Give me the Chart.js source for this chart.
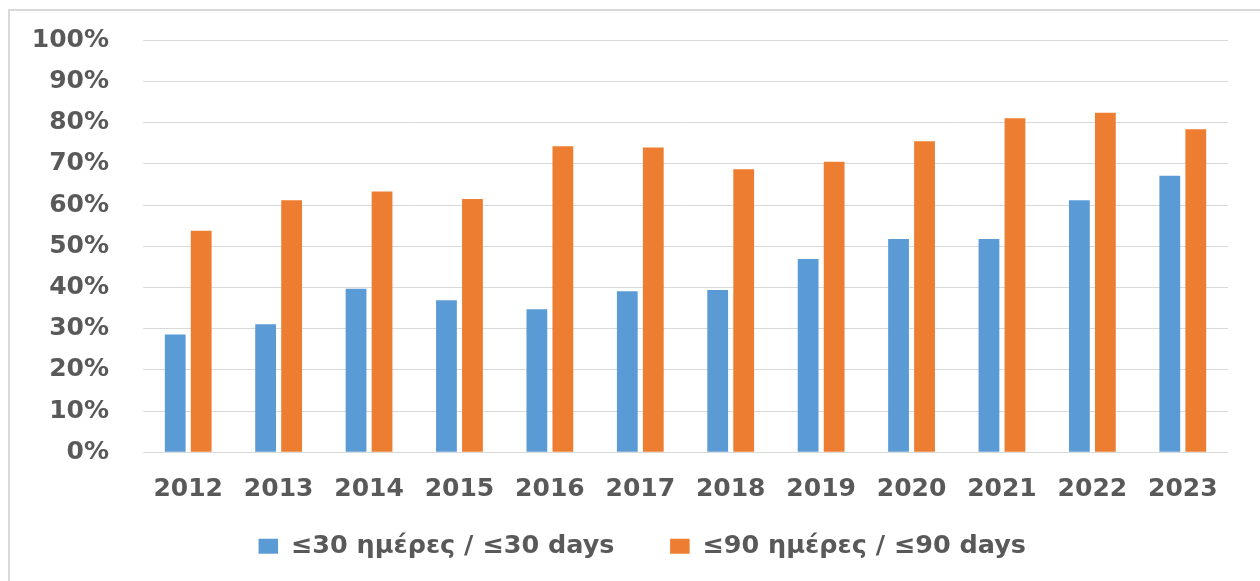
<!DOCTYPE html>
<html lang="el">
<head>
    <meta charset="UTF-8">
    <title>≤30 / ≤90 ημέρες</title>
    <script src="https://cdn.jsdelivr.net/npm/chart.js"></script>
    <style>
        html, body { margin: 0; padding: 0; background: #fff; overflow: hidden; }
        .frame {
            position: absolute; left: 8px; top: 9px;
            width: 1400px; height: 800px;
            border: 2px solid #d9d9d9;
        }
        .chart-box { position: absolute; left: 0; top: 0; width: 1260px; height: 581px; }
    </style>
</head>
<body>
    <div class="frame"></div>
    <div class="chart-box">
        <canvas id="chart" width="1260" height="581"></canvas>
    </div>

    <script>
        // Data (share of cases, %)
        const years = ['2012', '2013', '2014', '2015', '2016', '2017', '2018', '2019', '2020', '2021', '2022', '2023'];
        const within30 = [28.6, 31.1, 39.7, 36.9, 34.7, 39.1, 39.4, 46.9, 51.8, 51.8, 61.2, 67.1];
        const within90 = [53.8, 61.2, 63.3, 61.5, 74.3, 74.0, 68.7, 70.5, 75.5, 81.1, 82.4, 78.4];
        const seriesNames = ['≤30 ημέρες / ≤30 days', '≤90 ημέρες / ≤90 days'];

        const textColor = '#595959';
        const gridColor = '#d9d9d9';
        const font = { family: 'DejaVu Sans', size: 25, weight: 'bold' };

        // the original legend sits a little right of the page centre
        const legendShift = {
            id: 'legendShift',
            afterLayout(chart) {
                chart.legend.left += 12.3;
                chart.legend.right += 12.3;
            }
        };

        const ctx = document.getElementById('chart').getContext('2d');
        new Chart(ctx, {
            type: 'bar',
            data: {
                labels: years,
                datasets: [
                    { label: seriesNames[0], data: within30, backgroundColor: '#5b9bd5' },
                    { label: seriesNames[1], data: within90, backgroundColor: '#ed7d31' }
                ]
            },
            options: {
                responsive: false,
                animation: false,
                categoryPercentage: 0.575,
                barPercentage: 0.8,
                layout: { padding: { left: 32, right: 32, top: 40.3, bottom: 12 } },
                scales: {
                    x: {
                        afterFit: (scale) => { scale.height = 52.2; },
                        grid: { display: false, drawTicks: false },
                        border: { display: false },
                        ticks: { color: textColor, font: font, padding: 22, maxRotation: 0, autoSkip: false }
                    },
                    y: {
                        min: 0,
                        max: 100,
                        afterFit: (scale) => { scale.width = 111; },
                        // invisible tick marks keep the gap between labels and plot
                        grid: { color: gridColor, lineWidth: 1, tickLength: 34, tickColor: 'rgba(0,0,0,0)' },
                        border: { display: false },
                        ticks: {
                            stepSize: 10,
                            color: textColor,
                            font: font,
                            padding: 0,
                            callback: (v) => v + '%'
                        }
                    }
                },
                plugins: {
                    legend: {
                        position: 'bottom',
                        labels: {
                            color: textColor,
                            font: { family: 'DejaVu Sans', size: 25.5, weight: 'bold' },
                            boxWidth: 19.5,
                            boxHeight: 15,
                            padding: 29,
                            // extra room after the first item, as in the original legend
                            generateLabels: (c) => {
                                const items = Chart.defaults.plugins.legend.labels.generateLabels(c);
                                items[0].text += '   ';
                                return items;
                            }
                        }
                    },
                    tooltip: { enabled: false }
                }
            },
            plugins: [legendShift]
        });
    </script>
</body>
</html>
